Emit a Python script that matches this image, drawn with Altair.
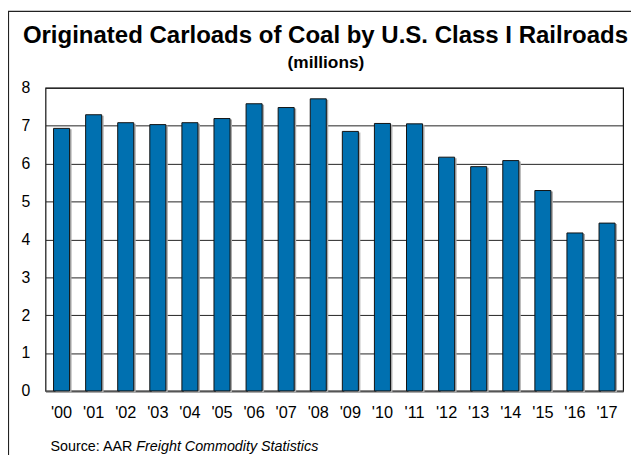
import altair as alt
import pandas as pd

years = ["'00", "'01", "'02", "'03", "'04", "'05", "'06", "'07", "'08", "'09",
         "'10", "'11", "'12", "'13", "'14", "'15", "'16", "'17"]
carloads = [6.93, 7.29, 7.08, 7.03, 7.08, 7.19, 7.58, 7.48, 7.71, 6.85,
            7.06, 7.05, 6.17, 5.92, 6.08, 5.29, 4.17, 4.43]

title_text = "Originated Carloads of Coal by U.S. Class I Railroads"
subtitle_text = "(millions)"
source_plain = "Source: AAR"
source_italic = "Freight Commodity Statistics"

df = pd.DataFrame({"year": years, "value": carloads})
one = pd.DataFrame({"k": [0]})

FONT = "Liberation Sans"

x_enc = alt.X("year:N", sort=years,
              scale=alt.Scale(paddingInner=0.5, paddingOuter=0.25),
              axis=alt.Axis(title=None, labelAngle=0, labelFontSize=16.5, labelFont=FONT,
                            labelColor="#000", ticks=False, labelPadding=14,
                            domain=True, domainColor="#555", domainWidth=2))
y_enc = alt.Y("value:Q", scale=alt.Scale(domain=[0, 8], nice=False),
              axis=alt.Axis(title=None, values=list(range(0, 9)), labelFontSize=16,
                            labelFont=FONT, labelColor="#000", ticks=False,
                            labelPadding=16, domain=False, grid=True,
                            gridColor="#222", gridWidth=1))

shadow = alt.Chart(df).mark_bar(color="#aaaaaa", xOffset=2, yOffset=1).encode(
    x=x_enc, y=y_enc,
)

bars = alt.Chart(df).mark_bar(color="#0070B0", stroke="#111", strokeWidth=1).encode(
    x=x_enc, y=y_enc,
)

frame = alt.Chart(one).mark_rect(fillOpacity=0, stroke="#222", strokeWidth=1.2, clip=False).encode(
    x=alt.value(-37.5), x2=alt.value(800), y=alt.value(-77.5), y2=alt.value(600)
)

def txt(text, size, weight="normal", style="normal", align="center"):
    return alt.Chart(one).mark_text(text=text, font=FONT, fontSize=size, fontWeight=weight,
                                    fontStyle=style, color="#000",
                                    align=align, baseline="alphabetic")

title = txt(title_text, 24.3, "bold").encode(x=alt.value(283.5), y=alt.value(-45))
subtitle = txt(subtitle_text, 17.5, "bold").encode(x=alt.value(284), y=alt.value(-20))
src1 = txt(source_plain, 14.5, align="left").encode(x=alt.value(5), y=alt.value(368))
src2 = txt(source_italic, 14.5, style="italic", align="left").encode(x=alt.value(92), y=alt.value(368))

chart = alt.layer(frame, shadow, bars, title, subtitle, src1, src2).properties(
    width=585, height=307,
    padding={"left": 38, "top": 78, "right": 8, "bottom": 62},
    autosize=alt.AutoSizeParams(type="none"),
    background="white",
).configure_view(stroke="#111", strokeWidth=1.2)

chart.save("out.html", embed_options={"renderer": "svg", "actions": False})
